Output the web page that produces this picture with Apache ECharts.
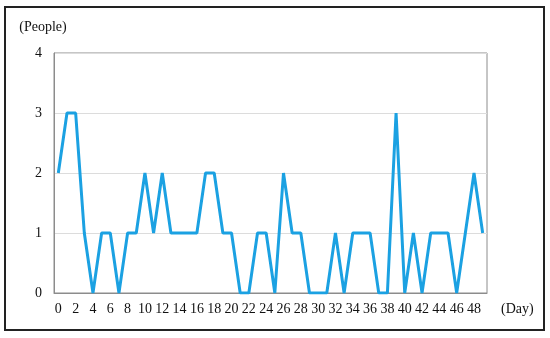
<!DOCTYPE html>
<html>
<head>
<meta charset="utf-8">
<script src="https://cdn.jsdelivr.net/npm/echarts@6/dist/echarts.min.js"></script>
<style>
    html, body { margin: 0; padding: 0; background: #fff; }
    #chart { width: 550px; height: 338px; }
</style>
</head>
<body>
<div id="chart"></div>
<script>
// days 0..49
var days = [];
for (var d = 0; d < 50; d++) {
    days.push(String(d));
}

// people per day
var people = [2, 3, 3, 1, 0, 1, 1, 0, 1, 1,
              2, 1, 2, 1, 1, 1, 1, 2, 2, 1,
              1, 0, 0, 1, 1, 0, 2, 1, 1, 0,
              0, 0, 1, 0, 1, 1, 1, 0, 0, 3,
              0, 1, 0, 1, 1, 1, 0, 1, 2, 1];

var yTicks = [0, 1, 2, 3, 4];

var myChart = echarts.init(document.getElementById('chart'));

var fontFamily = '"Liberation Serif", "Times New Roman", serif';

var option = {
    animation: false,
    backgroundColor: '#fff',
    // 外框
    graphic: [{
        type: 'rect',
        shape: { x: 5, y: 7, width: 539, height: 323 },
        style: { fill: 'none', stroke: '#222', lineWidth: 2 },
        silent: true
    }],
    grid: {
        left: 54,
        right: 63,
        top: 53,
        bottom: 45,
        show: true,
        borderColor: '#8c8c8c',
        borderWidth: 1
    },
    xAxis: {
        type: 'category',
        data: days,
        boundaryGap: true,
        name: '(Day)',
        nameLocation: 'end',
        nameGap: 14,
        nameTextStyle: {
            color: '#111',
            fontFamily: fontFamily,
            fontSize: 14,
            align: 'left',
            verticalAlign: 'top',
            padding: [9, 0, 0, 0]
        },
        axisLine: { show: true, lineStyle: { color: '#8c8c8c', width: 1 } },
        axisTick: { show: false },
        axisLabel: {
            interval: 1,
            margin: 9,
            color: '#111',
            fontFamily: fontFamily,
            fontSize: 14
        },
        splitLine: { show: false }
    },
    yAxis: {
        type: 'value',
        min: yTicks[0],
        max: yTicks[yTicks.length - 1],
        interval: 1,
        name: '(People)',
        nameLocation: 'end',
        nameGap: 19,
        nameTextStyle: {
            color: '#111',
            fontFamily: fontFamily,
            fontSize: 14,
            align: 'center',
            padding: [0, 0, 0, -22]
        },
        axisLine: { show: true, lineStyle: { color: '#8c8c8c', width: 1 } },
        axisTick: { show: false },
        axisLabel: {
            margin: 12,
            color: '#111',
            fontFamily: fontFamily,
            fontSize: 14
        },
        splitLine: { show: true, lineStyle: { color: '#dcdcdc', width: 1 } }
    },
    series: [{
        name: 'People',
        type: 'line',
        data: people,
        symbol: 'none',
        lineStyle: { color: '#1ba1e2', width: 3 },
        itemStyle: { color: '#1ba1e2' }
    }]
};

myChart.setOption(option);
</script>
</body>
</html>
